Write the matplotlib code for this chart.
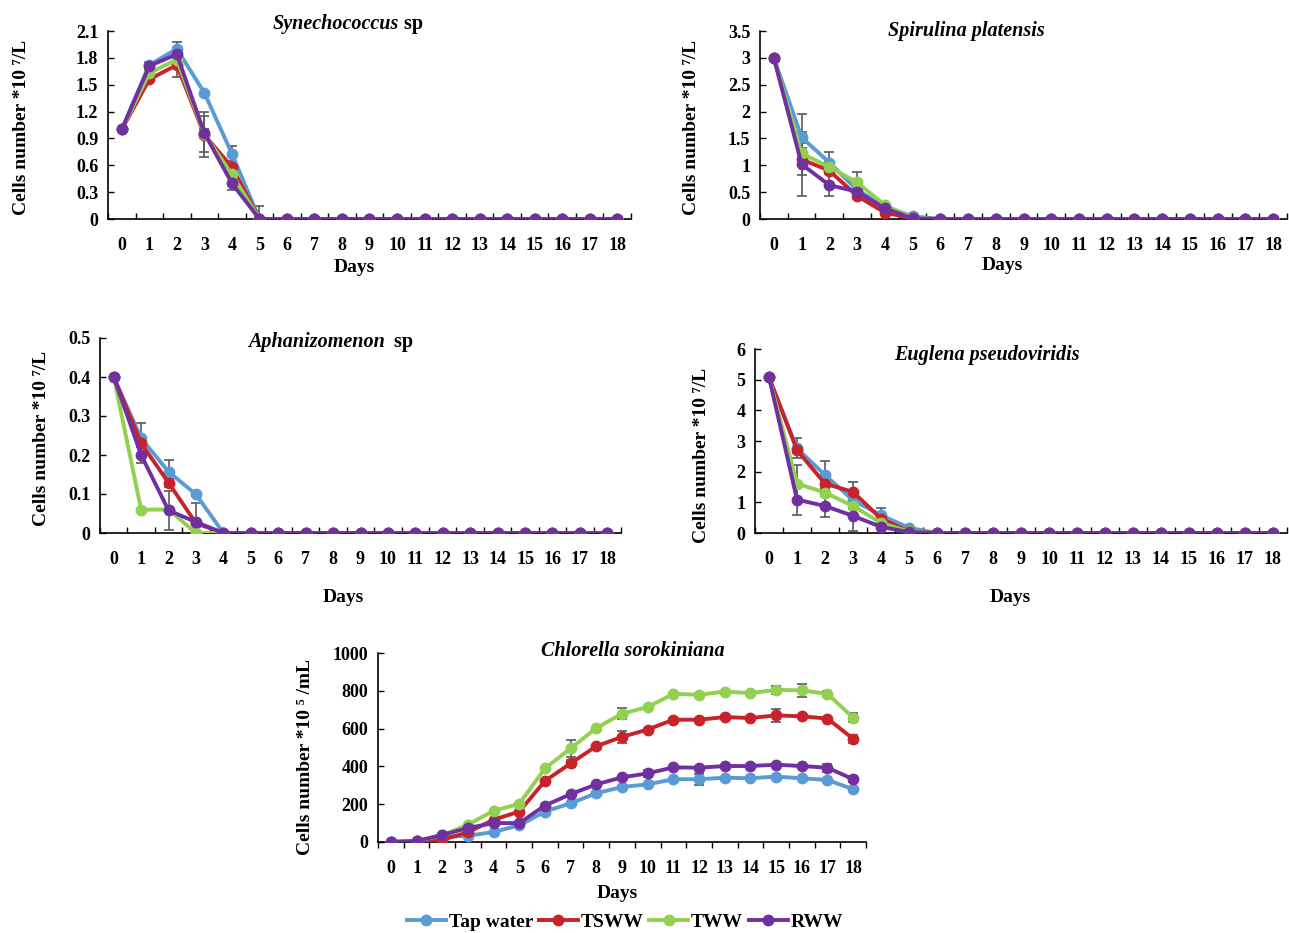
import numpy as np
import matplotlib
matplotlib.use("Agg")
import matplotlib.pyplot as plt

plt.rcParams['font.family'] = ['Liberation Serif', 'DejaVu Serif']
plt.rcParams['font.weight'] = 'bold'

days = list(range(19))
series = ["Tap water", "TSWW", "TWW", "RWW"]
colors = ["#5B9BD5", "#C8232B", "#92D050", "#7030A0"]

# Synechococcus sp
syn_tap = [1.0, 1.72, 1.90, 1.41, 0.73, 0, 0, 0, 0, 0, 0, 0, 0, 0, 0, 0, 0, 0, 0]
syn_tsww = [1.0, 1.56, 1.72, 0.94, 0.58, 0, 0, 0, 0, 0, 0, 0, 0, 0, 0, 0, 0, 0, 0]
syn_tww = [1.0, 1.63, 1.78, 0.95, 0.50, 0, 0, 0, 0, 0, 0, 0, 0, 0, 0, 0, 0, 0, 0]
syn_rww = [1.0, 1.71, 1.84, 0.96, 0.40, 0, 0, 0, 0, 0, 0, 0, 0, 0, 0, 0, 0, 0, 0]
syn_err_tap = [0, 0.03, 0.08, 0.0, 0.08, 0.15, 0, 0, 0, 0, 0, 0, 0, 0, 0, 0, 0, 0, 0]
syn_err_tsww = [0, 0.03, 0.13, 0.25, 0.03, 0, 0, 0, 0, 0, 0, 0, 0, 0, 0, 0, 0, 0, 0]
syn_err_tww = [0, 0.03, 0.05, 0.2, 0.03, 0, 0, 0, 0, 0, 0, 0, 0, 0, 0, 0, 0, 0, 0]
syn_err_rww = [0, 0.03, 0.03, 0.05, 0.08, 0, 0, 0, 0, 0, 0, 0, 0, 0, 0, 0, 0, 0, 0]

# Spirulina platensis
spi_tap = [3.0, 1.52, 1.05, 0.54, 0.23, 0.05, 0, 0, 0, 0, 0, 0, 0, 0, 0, 0, 0, 0, 0]
spi_tsww = [3.0, 1.11, 0.90, 0.43, 0.12, 0.01, 0, 0, 0, 0, 0, 0, 0, 0, 0, 0, 0, 0, 0]
spi_tww = [3.0, 1.22, 0.97, 0.68, 0.26, 0.02, 0, 0, 0, 0, 0, 0, 0, 0, 0, 0, 0, 0, 0]
spi_rww = [3.0, 1.02, 0.63, 0.51, 0.20, 0.01, 0, 0, 0, 0, 0, 0, 0, 0, 0, 0, 0, 0, 0]
spi_err_tap = [0, 0.43, 0.2, 0.03, 0.03, 0, 0, 0, 0, 0, 0, 0, 0, 0, 0, 0, 0, 0, 0]
spi_err_tsww = [0, 0.3, 0.05, 0.03, 0.03, 0, 0, 0, 0, 0, 0, 0, 0, 0, 0, 0, 0, 0, 0]
spi_err_tww = [0, 0.1, 0.05, 0.2, 0.03, 0, 0, 0, 0, 0, 0, 0, 0, 0, 0, 0, 0, 0, 0]
spi_err_rww = [0, 0.6, 0.2, 0.05, 0.03, 0, 0, 0, 0, 0, 0, 0, 0, 0, 0, 0, 0, 0, 0]

# Aphanizomenon sp
aph_tap = [0.4, 0.243, 0.157, 0.099, 0, 0, 0, 0, 0, 0, 0, 0, 0, 0, 0, 0, 0, 0, 0]
aph_tsww = [0.4, 0.23, 0.129, 0.025, 0, 0, 0, 0, 0, 0, 0, 0, 0, 0, 0, 0, 0, 0, 0]
aph_tww = [0.4, 0.06, 0.06, 0.0, 0, 0, 0, 0, 0, 0, 0, 0, 0, 0, 0, 0, 0, 0, 0]
aph_rww = [0.4, 0.2, 0.058, 0.028, 0, 0, 0, 0, 0, 0, 0, 0, 0, 0, 0, 0, 0, 0, 0]
aph_err_tap = [0, 0.04, 0.03, 0.0, 0, 0, 0, 0, 0, 0, 0, 0, 0, 0, 0, 0, 0, 0, 0]
aph_err_tsww = [0, 0.01, 0.01, 0.0, 0, 0, 0, 0, 0, 0, 0, 0, 0, 0, 0, 0, 0, 0, 0]
aph_err_tww = [0, 0.0, 0.0, 0.0, 0, 0, 0, 0, 0, 0, 0, 0, 0, 0, 0, 0, 0, 0, 0]
aph_err_rww = [0, 0.02, 0.05, 0.05, 0, 0, 0, 0, 0, 0, 0, 0, 0, 0, 0, 0, 0, 0, 0]

# Euglena pseudoviridis
eug_tap = [5.08, 2.76, 1.89, 1.07, 0.58, 0.17, 0, 0, 0, 0, 0, 0, 0, 0, 0, 0, 0, 0, 0]
eug_tsww = [5.08, 2.70, 1.61, 1.34, 0.47, 0.05, 0, 0, 0, 0, 0, 0, 0, 0, 0, 0, 0, 0, 0]
eug_tww = [5.08, 1.61, 1.32, 0.88, 0.33, 0.05, 0, 0, 0, 0, 0, 0, 0, 0, 0, 0, 0, 0, 0]
eug_rww = [5.08, 1.09, 0.88, 0.56, 0.20, 0.03, 0, 0, 0, 0, 0, 0, 0, 0, 0, 0, 0, 0, 0]
eug_err_tap = [0, 0.33, 0.47, 0.1, 0.22, 0, 0, 0, 0, 0, 0, 0, 0, 0, 0, 0, 0, 0, 0]
eug_err_tsww = [0, 0.1, 0.1, 0.33, 0.05, 0, 0, 0, 0, 0, 0, 0, 0, 0, 0, 0, 0, 0, 0]
eug_err_tww = [0, 0.6, 0.1, 0.1, 0.05, 0, 0, 0, 0, 0, 0, 0, 0, 0, 0, 0, 0, 0, 0]
eug_err_rww = [0, 0.5, 0.36, 0.5, 0.05, 0, 0, 0, 0, 0, 0, 0, 0, 0, 0, 0, 0, 0, 0]

# Chlorella sorokiniana
chl_tap = [0, 5, 26, 33, 53, 88, 161, 205, 258, 291, 305, 332, 332, 340, 337, 346, 337, 328, 279]
chl_tsww = [0, 5, 12, 51, 118, 161, 323, 416, 507, 556, 595, 647, 647, 661, 656, 670, 665, 653, 546]
chl_tww = [0, 5, 35, 92, 165, 202, 389, 495, 603, 679, 714, 784, 779, 796, 788, 805, 802, 784, 658]
chl_rww = [0, 5, 37, 74, 100, 100, 193, 253, 305, 342, 363, 395, 393, 402, 402, 409, 402, 393, 332]
chl_err_tap = [0, 0, 0, 0, 0, 0, 0, 0, 0, 0, 0, 0, 30, 0, 0, 0, 0, 0, 0]
chl_err_tsww = [0, 0, 0, 0, 0, 0, 0, 20, 0, 30, 0, 0, 0, 0, 0, 35, 0, 0, 20]
chl_err_tww = [0, 0, 0, 0, 0, 0, 0, 45, 0, 30, 0, 0, 0, 0, 0, 20, 35, 15, 25]
chl_err_rww = [0, 0, 0, 0, 0, 0, 0, 0, 0, 0, 20, 0, 0, 0, 0, 0, 0, 20, 15]

W, H = 1289, 933
fig = plt.figure(figsize=(W / 100, H / 100), dpi=100)


def rect(l, r, t, b):
    return [l / W, 1 - b / H, (r - l) / W, (b - t) / H]


def fx(x, y):
    return x / W, 1 - y / H


def panel(box, vals, errs, ymax, ystep, yfmt, xtick_dir):
    ax = fig.add_axes(rect(*box))
    for v, e, c, name in zip(vals, errs, colors, series):
        ax.errorbar(days, v, yerr=e, fmt='none', ecolor='#595959',
                    elinewidth=1.2, capsize=3.5, capthick=1.2, zorder=2)
        ax.plot(days, v, '-o', color=c, lw=2.8, ms=7.5, label=name, zorder=3)
    ticks = np.arange(0, ymax + ystep / 2, ystep)
    ax.set_xlim(-0.5, 18.5)
    ax.set_ylim(0, ymax)
    ax.set_yticks(ticks)
    ax.set_yticklabels([yfmt(t) for t in ticks])
    ax.set_xticks(days)
    ax.set_xticks(np.arange(-0.5, 18.6, 1), minor=True)
    ax.tick_params(axis='x', which='major', length=0, pad=13, labelsize=13)
    ax.tick_params(axis='x', which='minor', length=4, direction=xtick_dir, width=1)
    ax.tick_params(axis='y', length=4, direction='in', width=1, labelsize=13, pad=7)
    for s in ['top', 'right']:
        ax.spines[s].set_visible(False)
    for s in ['left', 'bottom']:
        ax.spines[s].set_linewidth(1.2)
    return ax


def fmt_half(t):
    if abs(t - round(t)) < 1e-9:
        return f'{int(round(t))}'
    return f'{t:.1f}'


ylab7 = 'Cells number *10 \u2077/L'

ax1 = panel((108, 631, 31, 219), [syn_tap, syn_tsww, syn_tww, syn_rww],
            [syn_err_tap, syn_err_tsww, syn_err_tww, syn_err_rww], 2.1, 0.3,
            lambda t: '0' if t == 0 else f'{t:.1f}', 'in')
ax2 = panel((760, 1287, 31, 219), [spi_tap, spi_tsww, spi_tww, spi_rww],
            [spi_err_tap, spi_err_tsww, spi_err_tww, spi_err_rww], 3.5, 0.5,
            fmt_half, 'in')
ax3 = panel((100, 621, 338, 533), [aph_tap, aph_tsww, aph_tww, aph_rww],
            [aph_err_tap, aph_err_tsww, aph_err_tww, aph_err_rww], 0.5, 0.1,
            lambda t: '0' if t == 0 else f'{t:.1f}', 'in')
ax4 = panel((755, 1287, 349, 533), [eug_tap, eug_tsww, eug_tww, eug_rww],
            [eug_err_tap, eug_err_tsww, eug_err_tww, eug_err_rww], 6, 1,
            lambda t: f'{int(round(t))}', 'in')
ax5 = panel((378, 866, 653, 842), [chl_tap, chl_tsww, chl_tww, chl_rww],
            [chl_err_tap, chl_err_tsww, chl_err_tww, chl_err_rww], 1000, 200,
            lambda t: f'{int(round(t))}', 'out')

# titles
tfs = 14.5
t1 = fig.text(*fx(336, 24), 'Synechococcus', style='italic', fontsize=tfs, ha='center', va='center')
ax1.annotate(' sp', xy=(1, 0), xycoords=t1, va='bottom', fontsize=tfs, annotation_clip=False)
fig.text(*fx(966, 31), 'Spirulina platensis', style='italic', fontsize=tfs, ha='center', va='center')
t3 = fig.text(*fx(316, 342), 'Aphanizomenon', style='italic', fontsize=tfs, ha='center', va='center')
ax3.annotate('  sp', xy=(1, 0), xycoords=t3, va='bottom', fontsize=tfs, annotation_clip=False)
fig.text(*fx(987, 355), 'Euglena pseudoviridis', style='italic', fontsize=tfs, ha='center', va='center')
fig.text(*fx(633, 651), 'Chlorella sorokiniana', style='italic', fontsize=tfs, ha='center', va='center')

# axis labels
for x, y in [(354, 267), (1002, 266), (343, 598), (1010, 598), (617, 893)]:
    fig.text(*fx(x, y), 'Days', fontsize=14, ha='center', va='center')
for x, y, s in [(22, 127, ylab7), (692, 127, ylab7), (42, 438, ylab7),
                (702, 455, ylab7), (306, 757, 'Cells number *10 \u2075 /mL')]:
    fig.text(*fx(x, y), s, fontsize=14, ha='center', va='center', rotation=90)

handles, labels = ax5.get_legend_handles_labels()
fig.legend(handles, labels, loc='center', bbox_to_anchor=fx(625, 922), ncol=4,
           frameon=False, fontsize=14, handlelength=2.0, handletextpad=0.15,
           columnspacing=0.3, borderpad=0)

fig.savefig('out.png', dpi=100)
